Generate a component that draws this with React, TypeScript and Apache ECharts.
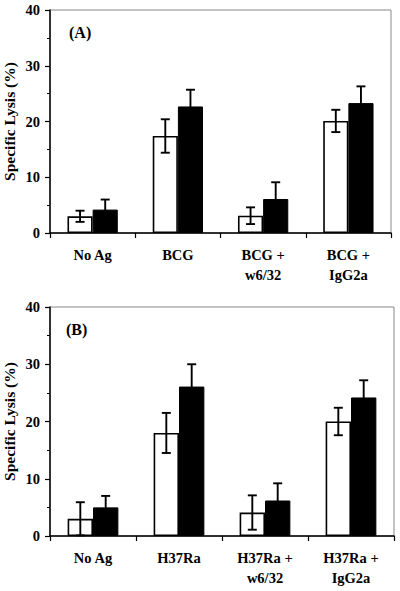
import React, { useEffect, useRef } from "react";
import * as echarts from "echarts";

const categoriesA = ["No Ag", "BCG", "BCG +\nw6/32", "BCG +\nIgG2a"];
const categoriesB = ["No Ag", "H37Ra", "H37Ra +\nw6/32", "H37Ra +\nIgG2a"];

const openA = [3, 17.4, 3.1, 20.1];
const openErrA = [1, 3, 1.5, 2];
const filledA = [4.2, 22.7, 6.1, 23.3];
const filledErrA = [1.8, 3, 3, 3];

const openB = [3, 18, 4.1, 20];
const openErrB = [2.9, 3.5, 3, 2.4];
const filledB = [5, 26.1, 6.2, 24.2];
const filledErrB = [2, 3.9, 3, 3];

const yTicks = { min: 0, max: 40, interval: 10 };
const panelLabels = ["(A)", "(B)"];
const yAxisTitle = "Specific Lysis (%)";

const FONT = '"Liberation Serif", "Times New Roman", serif';
const GAP = 0.41;

function errRows(vals: number[], errs: number[], side: number) {
  return vals.map((v, i) => [i, v, errs[i], side]);
}

const renderErr = (params: any, api: any) => {
  const cat = api.value(0);
  const v = api.value(1);
  const e = api.value(2);
  const side = api.value(3);
  const band = api.size([1, 0])[0];
  const bw = (band * (1 - GAP)) / 2;
  const c = api.coord([cat, v]);
  const x = c[0] + (side === 0 ? -bw / 2 : bw / 2);
  const yTop = api.coord([cat, v + e])[1];
  const yBot = api.coord([cat, Math.max(v - e, 0)])[1];
  const cap = 4.5;
  const style = { stroke: "#000", lineWidth: 1.9 };
  return {
    type: "group",
    children: [
      { type: "line", shape: { x1: x, y1: yTop, x2: x, y2: yBot }, style },
      { type: "line", shape: { x1: x - cap, y1: yTop, x2: x + cap, y2: yTop }, style },
      { type: "line", shape: { x1: x - cap, y1: yBot, x2: x + cap, y2: yBot }, style },
    ],
  };
};

export default function App() {
  const ref = useRef<HTMLDivElement>(null);
  useEffect(() => {
    if (!ref.current) return;
    const chart = echarts.init(ref.current, undefined, { renderer: "svg" });
    const grids = [
      { left: 50, top: 10, width: 341, height: 223 },
      { left: 50, top: 307, width: 344, height: 229 },
    ];
    const cats = [categoriesA, categoriesB];
    const opens = [openA, openB];
    const openErrs = [openErrA, openErrB];
    const filleds = [filledA, filledB];
    const filledErrs = [filledErrA, filledErrB];

    const series: any[] = [];
    for (let g = 0; g < 2; g++) {
      series.push({
        type: "bar",
        xAxisIndex: g,
        yAxisIndex: g,
        data: opens[g],
        barGap: "0%",
        barCategoryGap: GAP * 100 + "%",
        itemStyle: { color: "#fff", borderColor: "#000", borderWidth: 1.6 },
        z: 2,
      });
      series.push({
        type: "bar",
        xAxisIndex: g,
        yAxisIndex: g,
        data: filleds[g],
        barGap: "0%",
        barCategoryGap: GAP * 100 + "%",
        itemStyle: { color: "#000", borderColor: "#000", borderWidth: 1 },
        z: 2,
      });
      series.push({
        type: "custom",
        xAxisIndex: g,
        yAxisIndex: g,
        renderItem: renderErr,
        encode: { x: 0, y: 1 },
        data: [
          ...errRows(opens[g], openErrs[g], 0),
          ...errRows(filleds[g], filledErrs[g], 1),
        ],
        z: 5,
      });
    }

    chart.setOption({
      animation: false,
      grid: grids.map((gr) => ({
        ...gr,
        containLabel: false,
        outerBoundsMode: "none",
        show: true,
        borderColor: "#888",
        borderWidth: 1,
        backgroundColor: "transparent",
      })),
      xAxis: cats.map((c, i) => ({
        type: "category",
        gridIndex: i,
        data: c,
        axisLine: { lineStyle: { color: "#000", width: 1.5 } },
        axisTick: { show: true, interval: 0, length: 5, lineStyle: { color: "#000", width: 1.2 } },
        axisLabel: {
          interval: 0,
          margin: 12,
          fontFamily: FONT,
          fontWeight: "bold",
          fontSize: 14.5,
          lineHeight: 20,
          color: "#000",
        },
        splitLine: { show: false },
      })),
      yAxis: [0, 1].map((i) => ({
        type: "value",
        gridIndex: i,
        min: yTicks.min,
        max: yTicks.max,
        interval: yTicks.interval,
        name: yAxisTitle,
        nameLocation: "middle",
        nameGap: 33,
        nameMoveOverlap: false,
        nameTextStyle: { fontFamily: FONT, fontWeight: "bold", fontSize: 15.5, color: "#000" },
        axisLine: { show: true, lineStyle: { color: "#000", width: 1.5 } },
        axisTick: { show: true, length: 5, lineStyle: { color: "#000", width: 1.2 } },
        minorTick: { show: true, splitNumber: 2, length: 3, lineStyle: { color: "#000", width: 1 } },
        axisLabel: {
          margin: 10,
          fontFamily: FONT,
          fontWeight: "bold",
          fontSize: 14.5,
          color: "#000",
        },
        splitLine: { show: false },
        minorSplitLine: { show: false },
      })),
      graphic: [
        {
          type: "text",
          left: 69,
          top: 24,
          style: { text: panelLabels[0], font: `bold 16px ${FONT}`, fill: "#000" },
        },
        {
          type: "text",
          left: 66,
          top: 321,
          style: { text: panelLabels[1], font: `bold 16px ${FONT}`, fill: "#000" },
        },
      ],
      series,
    });
    return () => chart.dispose();
  }, []);
  return (
    <div
      ref={ref}
      style={{ position: "fixed", left: 0, top: 0, width: 400, height: 591, background: "#fff" }}
    />
  );
}
